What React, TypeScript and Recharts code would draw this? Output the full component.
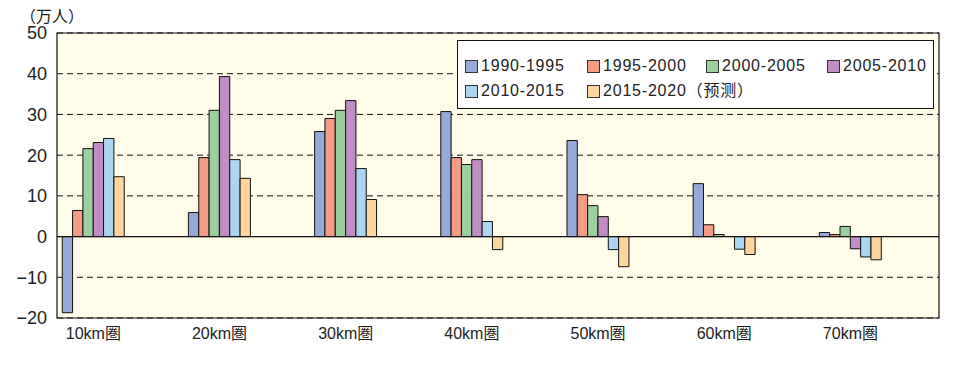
import React from "react";
import {
  BarChart,
  Bar,
  XAxis,
  YAxis,
  CartesianGrid,
  ReferenceLine,
  ReferenceArea,
  Legend,
} from "recharts";

const categories = ["10km圏", "20km圏", "30km圏", "40km圏", "50km圏", "60km圏", "70km圏"];
const seriesNames = ["1990-1995", "1995-2000", "2000-2005", "2005-2010", "2010-2015", "2015-2020（预测）"];
const s1990 = [-18.7, 5.9, 25.8, 30.7, 23.6, 13.0, 1.0];
const s1995 = [6.4, 19.4, 29.0, 19.4, 10.3, 2.9, 0.5];
const s2000 = [21.6, 31.0, 31.0, 17.7, 7.6, 0.5, 2.5];
const s2005 = [23.1, 39.3, 33.4, 18.9, 4.9, 0, -3.0];
const s2010 = [24.1, 18.9, 16.7, 3.7, -3.2, -3.1, -5.0];
const s2015 = [14.7, 14.3, 9.1, -3.2, -7.4, -4.4, -5.7];
const yTicks = [-20, -10, 0, 10, 20, 30, 40, 50];
const colors = ["#97a9d9", "#f29c84", "#9ccf9e", "#c08ec4", "#acd5f2", "#fdd69e"];
const keys = ["a", "b", "c", "d", "e", "f"];

const data = categories.map((c, i) => ({
  x: i,
  name: c,
  a: s1990[i],
  b: s1995[i],
  c: s2000[i],
  d: s2005[i],
  e: s2010[i],
  f: s2015[i],
}));

const FONT = '"Liberation Sans", "Noto Sans CJK JP", "Noto Sans CJK SC", sans-serif';

const legendCols = [7, 129, 248, 369];

const LegendBox = () => (
  <div
    style={{
      position: "absolute",
      left: 449,
      top: 32,
      width: 475,
      height: 67,
      background: "#ffffff",
      border: "1px solid #111",
      fontFamily: FONT,
      fontSize: 16,
      color: "#222",
    }}
  >
    {seriesNames.map((n, i) => {
      const row = Math.floor(i / 4);
      const col = i % 4;
      return (
        <div
          key={n}
          style={{
            position: "absolute",
            left: legendCols[col],
            top: 15 + row * 25,
            display: "flex",
            alignItems: "center",
            whiteSpace: "nowrap",
            lineHeight: "20px",
            letterSpacing: 0.8,
          }}
        >
          <span
            style={{
              display: "inline-block",
              width: 11,
              height: 11,
              background: colors[i],
              border: "1px solid #333",
              marginRight: 3,
            }}
          />
          <span>{n}</span>
        </div>
      );
    })}
  </div>
);

export default function App() {
  return (
    <div style={{ position: "relative", width: 955, height: 378, fontFamily: FONT }}>
      <div
        style={{
          position: "absolute",
          left: 12,
          top: 0,
          fontSize: 16,
          color: "#222",
          fontFamily: FONT,
          lineHeight: "18px",
        }}
      >
        （万人）
      </div>
      <BarChart
        width={955}
        height={378}
        data={data}
        margin={{ top: 25, right: 24, bottom: 38, left: 5 }}
        barGap={0}
      >
        <CartesianGrid
          vertical={false}
          stroke="#111"
          strokeDasharray="6 4"
          fill="#fffcea"
          fillOpacity={1}
        />
        <XAxis
          type="number"
          dataKey="x"
          domain={[-0.288, 6.702]}
          allowDataOverflow
          ticks={[0, 1, 2, 3, 4, 5, 6]}
          tickFormatter={(v: number) => categories[v] ?? ""}
          axisLine={false}
          tickLine={false}
          height={30}
          tick={{ fontSize: 16, fill: "#222", fontFamily: FONT }}
          tickMargin={4}
        />
        <YAxis
          type="number"
          domain={[-20, 50]}
          ticks={yTicks}
          tickFormatter={(v: number) => (v < 0 ? "\u2212" + Math.abs(v) : String(v))}
          axisLine={false}
          tickLine={false}
          width={44}
          tick={{ fontSize: 18, fill: "#222", fontFamily: FONT }}
          tickMargin={4}
        />
        {keys.map((k, i) => (
          <Bar
            key={k}
            dataKey={k}
            name={seriesNames[i]}
            fill={colors[i]}
            stroke="#111"
            strokeWidth={1}
            barSize={10.33}
            isAnimationActive={false}
          />
        ))}
        <ReferenceLine y={0} stroke="#111" strokeWidth={1.2} />
        <ReferenceArea
          x1={-0.288}
          x2={6.702}
          y1={-20}
          y2={50}
          fill="none"
          fillOpacity={0}
          stroke="#111"
          strokeWidth={1.2}
          ifOverflow="visible"
        />
        <Legend content={() => <LegendBox />} wrapperStyle={{ position: "absolute", left: 0, top: 0, width: 0, height: 0 }} />
      </BarChart>
    </div>
  );
}
